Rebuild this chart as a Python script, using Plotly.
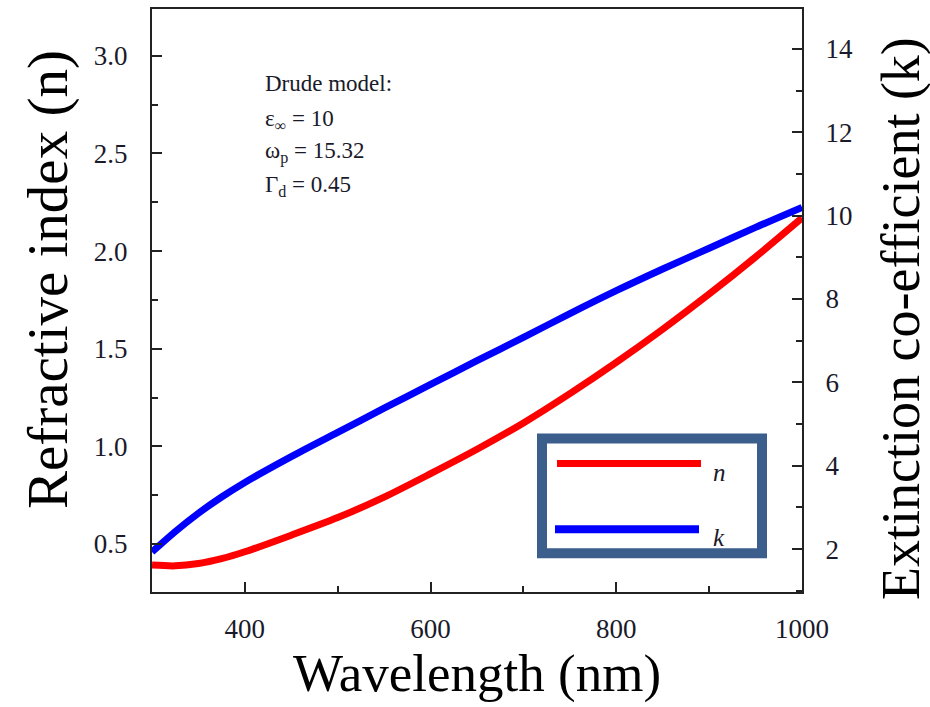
import plotly.graph_objects as go

# ---- data ----
wavelength = [300, 325, 350, 375, 400, 450, 500, 550, 600, 650, 700, 750, 800, 850, 900, 950, 1000]
n_values = [0.392, 0.388, 0.400, 0.425, 0.460, 0.545, 0.635, 0.740, 0.860, 0.985, 1.120, 1.270, 1.430, 1.600, 1.780, 1.970, 2.170]
k_values = [1.93, 2.42, 2.86, 3.25, 3.60, 4.22, 4.80, 5.38, 5.95, 6.52, 7.08, 7.65, 8.20, 8.72, 9.22, 9.72, 10.20]

x_ticks = [400, 600, 800, 1000]
n_ticks = [0.5, 1.0, 1.5, 2.0, 2.5, 3.0]
k_ticks = [2, 4, 6, 8, 10, 12, 14]

x_title = "Wavelength (nm)"
n_title = "Refractive index (n)"
k_title = "Extinction co-efficient (k)"
drude_lines = ["Drude model:", "ε<sub>∞</sub> = 10", "ω<sub>p</sub> = 15.32", "Γ<sub>d</sub> = 0.45"]
legend_labels = ["n", "k"]

SERIF = "Liberation Serif"
AX = "#222222"
TXT = "#1a1a2a"

W, H = 930, 707
L, R, T, B = 152, 802, 7, 592


def px(x):
    return (x - L) / (R - L)


def py(y):
    return (B - y) / (B - T)


fig = go.Figure()
fig.add_trace(go.Scatter(x=wavelength, y=n_values, mode="lines", name="n",
                         line=dict(color="#ff0000", width=7, shape="spline", smoothing=0.8),
                         showlegend=False, yaxis="y"))
fig.add_trace(go.Scatter(x=wavelength, y=k_values, mode="lines", name="k",
                         line=dict(color="#0000ff", width=7, shape="spline", smoothing=0.8),
                         showlegend=False, yaxis="y2"))

tickfont = dict(size=27, family=SERIF, color=TXT)

fig.update_layout(
    width=W, height=H,
    margin=dict(l=L, r=W - R, t=T, b=H - B, pad=0),
    paper_bgcolor="white", plot_bgcolor="white",
    font=dict(family=SERIF, color=AX),
    showlegend=False,
    xaxis=dict(
        range=[300, 1000], tickvals=x_ticks, ticks="inside", ticklen=10, tickwidth=1.5,
        tickcolor=AX, showline=True, linecolor=AX, linewidth=2, mirror=True,
        showgrid=False, zeroline=False, tickfont=tickfont, ticklabelstandoff=12,
        minor=dict(tickvals=[500, 700, 900], ticks="inside", ticklen=6, tickcolor=AX, showgrid=False),
        title=dict(text=x_title, font=dict(size=53, family=SERIF, color="black"), standoff=10),
    ),
    yaxis=dict(
        range=[0.254, 3.24], tickvals=n_ticks, ticktext=[f"{v:.1f}" for v in n_ticks],
        ticks="inside", ticklen=10, tickwidth=1.5, tickcolor=AX,
        showline=True, linecolor=AX, linewidth=2, showgrid=False, zeroline=False,
        tickfont=tickfont, ticklabelstandoff=17,
        minor=dict(tickvals=[0.75, 1.25, 1.75, 2.25, 2.75], ticks="inside", ticklen=6, tickcolor=AX, showgrid=False),
    ),
    yaxis2=dict(
        range=[0.97, 14.96], tickvals=k_ticks, overlaying="y", side="right",
        ticks="inside", ticklen=10, tickwidth=1.5, tickcolor=AX,
        showline=True, linecolor=AX, linewidth=2, showgrid=False, zeroline=False,
        tickfont=tickfont, ticklabelstandoff=16,
        minor=dict(tickvals=[1, 3, 5, 7, 9, 11, 13], ticks="inside", ticklen=6, tickcolor=AX, showgrid=False),
    ),
)

# vertical axis titles placed as rotated annotations
fig.add_annotation(x=px(48), y=py(279), xref="paper", yref="paper", text=n_title,
                   textangle=-90, showarrow=False, xanchor="center", yanchor="middle",
                   font=dict(size=57, family=SERIF, color="black"))
fig.add_annotation(x=px(901), y=py(318), xref="paper", yref="paper", text=k_title,
                   textangle=-90, showarrow=False, xanchor="center", yanchor="middle",
                   font=dict(size=54, family=SERIF, color="black"))

# Drude-model parameter text
text_y = [82, 118, 151, 185]
for line, yy in zip(drude_lines, text_y):
    fig.add_annotation(x=px(263), y=py(yy), xref="paper", yref="paper", text=line,
                       showarrow=False, xanchor="left", yanchor="middle",
                       font=dict(size=23, family=SERIF, color=TXT))

# custom legend box
fig.add_shape(type="rect", xref="paper", yref="paper",
              x0=px(542), x1=px(762), y0=py(553), y1=py(438),
              line=dict(color="#3b5e8c", width=10), fillcolor="white", layer="above")
fig.add_shape(type="line", xref="paper", yref="paper", x0=px(557), x1=px(701), y0=py(463), y1=py(463),
              line=dict(color="#ff0000", width=7), layer="above")
fig.add_shape(type="line", xref="paper", yref="paper", x0=px(555), x1=px(699), y0=py(529), y1=py(529),
              line=dict(color="#0000ff", width=8), layer="above")
for lab, yy in zip(legend_labels, [472, 537]):
    fig.add_annotation(x=px(711), y=py(yy), xref="paper", yref="paper", text=f"<i>{lab}</i>",
                       showarrow=False, xanchor="left", yanchor="middle",
                       font=dict(size=25, family=SERIF, color=TXT))

fig.write_html("out.html")
